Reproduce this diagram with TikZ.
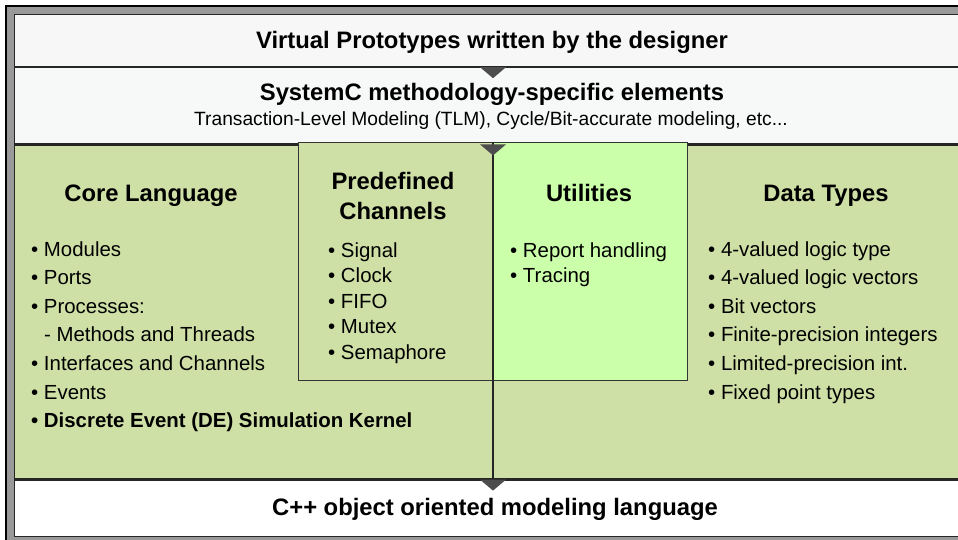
\documentclass[tikz,border=0pt]{standalone}
\usepackage{fontspec}
\setmainfont{Liberation Sans}
\usetikzlibrary{positioning}
\definecolor{framegray}{HTML}{999999}
\definecolor{topwhite}{HTML}{F7F7F7}
\definecolor{subwhite}{HTML}{F7F8F8}
\definecolor{coregreen}{HTML}{CFE0A6}
\definecolor{utilgreen}{HTML}{CCFFAA}
\definecolor{notchgray}{HTML}{4D4D4D}

\begin{document}
\begin{tikzpicture}[x=1pt,y=-1pt,
    band/.style={draw=black!85, line width=1.2pt, anchor=north west, minimum width=956pt, inner sep=0pt},
    panel/.style={draw=black!80, line width=1pt, anchor=north west, minimum width=194pt, minimum height=238pt, inner sep=0pt},
    head/.style={font=\fontsize{23.8}{30}\selectfont\bfseries, align=center},
    item/.style={font=\fontsize{20.4}{24}\selectfont, anchor=base west, inner sep=0pt},
    notch/.style={fill=notchgray}]
  \useasboundingbox (0,0) rectangle (958,540);
  \clip (0,0) rectangle (958,540);

  % outer frame
  \draw[fill=framegray, line width=1.5pt] (6,6) rectangle (978,548);

  % layers
  \node[band, fill=topwhite, minimum height=52pt] (proto) at (14,14) {};
  \node[band, fill=subwhite, minimum height=76pt] (sysc) at (proto.south west) {};
  \node[band, fill=coregreen, minimum height=334pt] (core) at (sysc.south west) {};
  \node[band, fill=white, minimum height=56pt] (cpp) at (core.south west) {};

  % channels and utilities
  \node[panel, fill=coregreen] (chan) at (298,142) {};
  \node[panel, fill=utilgreen] (util) at (chan.north east) {};

  % headings
  \node[head, anchor=base] (protolbl) at (492,49) {Virtual Prototypes written by the designer};
  \node[head, anchor=base] (sysclbl) at (492,101) {SystemC methodology-specific elements};
  \node[font=\fontsize{19.2}{23}\selectfont, anchor=base] (tlmlbl) at (491,126)
    {Transaction-Level Modeling (TLM), Cycle/Bit-accurate modeling, etc...};
  \node[head, anchor=base] (corelbl) at (151,202) {Core Language};
  \node[head] (chanlbl) at (393,196) {Predefined\\Channels};
  \node[head, anchor=base] (utillbl) at (589,202) {Utilities};
  \node[head, anchor=base] (datalbl) at (826,202) {Data Types};
  \node[head, anchor=base] (cpplbl) at (495,515) {C++ object oriented modeling language};

  % core language
  \foreach \t [count=\i from 0] in {\textbullet\ Modules, \textbullet\ Ports,
      \textbullet\ Processes:, \hspace{13pt}- Methods and Threads,
      \textbullet\ Interfaces and Channels, \textbullet\ Events,
      \textbf{\textbullet\ Discrete Event (DE) Simulation Kernel}}
    \node[item] (core\i) at (31,{256+28.6*\i}) {\t};

  % predefined channels
  \foreach \t [count=\i from 0] in {Signal, Clock, FIFO, Mutex, Semaphore}
    \node[item] (chan\i) at (328,{257+25.6*\i}) {\textbullet\ \t};

  % utilities
  \foreach \t [count=\i from 0] in {Report handling, Tracing}
    \node[item] (util\i) at (510,{257+25.6*\i}) {\textbullet\ \t};

  % data types
  \foreach \t [count=\i from 0] in {4-valued logic type, 4-valued logic vectors,
      Bit vectors, Finite-precision integers, Limited-precision int., Fixed point types}
    \node[item] (data\i) at (708,{256+28.6*\i}) {\textbullet\ \t};

  % split line and notches
  \draw[line width=1.1pt, black!85] (chan.north east) -- (chan.north east |- cpp.north);
  \foreach \b in {proto,sysc,core}
    \fill[notch] (\b.south -| chan.north east) ++(-13,0) -- ++(26,0) -- ++(-13,11) -- cycle;
\end{tikzpicture}
\end{document}
